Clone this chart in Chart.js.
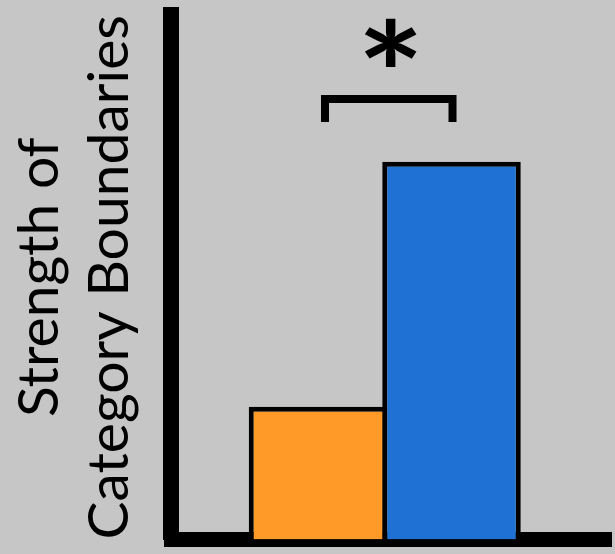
<!DOCTYPE html>
<html>
<head>
<meta charset="utf-8">
<script src="https://cdn.jsdelivr.net/npm/chart.js@4/dist/chart.umd.min.js"></script>
<style>
  html, body { margin: 0; padding: 0; background: #c6c6c6; }
  #wrap { width: 615px; height: 554px; }
  canvas { display: block; }
</style>
</head>
<body>
<div id="wrap"><canvas id="c" width="615" height="554"></canvas></div>
<script>
// ---- data ----
const categories = [''];
const seriesNames = ['Condition A', 'Condition B'];
const seriesValues = [[25.3], [72.0]];
const seriesColors = ['#FF9A28', '#1F72D3'];
const yTitleLines = ['Strength of', 'Category Boundaries'];
const yRange = [0, 100];
const bracketLevels = [84.0, 79.6];   // bracket top, bracket tick ends
const starLevel = [94.7];             // centre of the significance mark
const starText = ['*'];

const sigPlugin = {
  id: 'sig',
  afterDatasetsDraw(chart) {
    const ctx = chart.ctx, y = chart.scales.y;
    const a = chart.getDatasetMeta(0).data[0];
    const b = chart.getDatasetMeta(1).data[0];
    const x1 = a.x + 7, x2 = b.x + 1;
    const yTop = y.getPixelForValue(bracketLevels[0]);
    const yEnd = y.getPixelForValue(bracketLevels[1]);
    ctx.save();
    ctx.strokeStyle = '#000';
    ctx.lineWidth = 8;
    ctx.lineJoin = 'miter';
    ctx.lineCap = 'butt';
    ctx.beginPath();
    ctx.moveTo(x1, yEnd);
    ctx.lineTo(x1, yTop);
    ctx.lineTo(x2, yTop);
    ctx.lineTo(x2, yEnd);
    ctx.stroke();

    // significance mark: glyph fitted to a 52 x 48 box
    ctx.font = 'bold 100px Lato';
    let m = ctx.measureText(starText[0]);
    const h = m.actualBoundingBoxAscent + m.actualBoundingBoxDescent;
    const size = 100 * 48 / h;
    ctx.font = 'bold ' + size + 'px Lato';
    m = ctx.measureText(starText[0]);
    const gw = m.actualBoundingBoxRight + m.actualBoundingBoxLeft;
    const sx = 52 / gw;
    const cy = y.getPixelForValue(starLevel[0]);
    const cx = (x1 + x2) / 2 + 2;
    ctx.translate(cx, cy);
    ctx.scale(sx, 1);
    ctx.textAlign = 'left';
    ctx.textBaseline = 'alphabetic';
    const gx = -(m.actualBoundingBoxRight - m.actualBoundingBoxLeft) / 2;
    const gy = (m.actualBoundingBoxAscent - m.actualBoundingBoxDescent) / 2;
    ctx.fillStyle = '#000';
    ctx.fillText(starText[0], gx, gy);
    ctx.restore();
  }
};

new Chart(document.getElementById('c'), {
  type: 'bar',
  data: {
    labels: categories,
    datasets: seriesNames.map((name, i) => ({
      label: name,
      data: seriesValues[i],
      backgroundColor: seriesColors[i],
      borderColor: '#000',
      borderWidth: 5,
      borderSkipped: 'start',
      categoryPercentage: 0.6246,
      barPercentage: 1.0375
    }))
  },
  options: {
    responsive: false,
    animation: false,
    events: [],
    layout: { padding: { left: 0, top: 15, right: 16.5, bottom: 14.5 } },
    plugins: { legend: { display: false }, tooltip: { enabled: false } },
    scales: {
      x: {
        grid: { display: false, lineWidth: 27 },
        ticks: { display: false },
        border: { display: true, color: '#000', width: 15 },
        afterFit(scale) { scale.height = 0; }
      },
      y: {
        min: yRange[0],
        max: yRange[1],
        grid: { display: false },
        ticks: { display: false },
        border: { display: true, color: '#000', width: 16 },
        title: {
          display: true,
          text: yTitleLines,
          color: '#000',
          font: { family: 'Lato', size: 57, weight: 'normal', lineHeight: 70 / 57 },
          padding: { top: 4.6, bottom: 0 }
        },
        afterFit(scale) { scale.width = 171; }
      }
    }
  },
  plugins: [sigPlugin]
});
</script>
</body>
</html>
